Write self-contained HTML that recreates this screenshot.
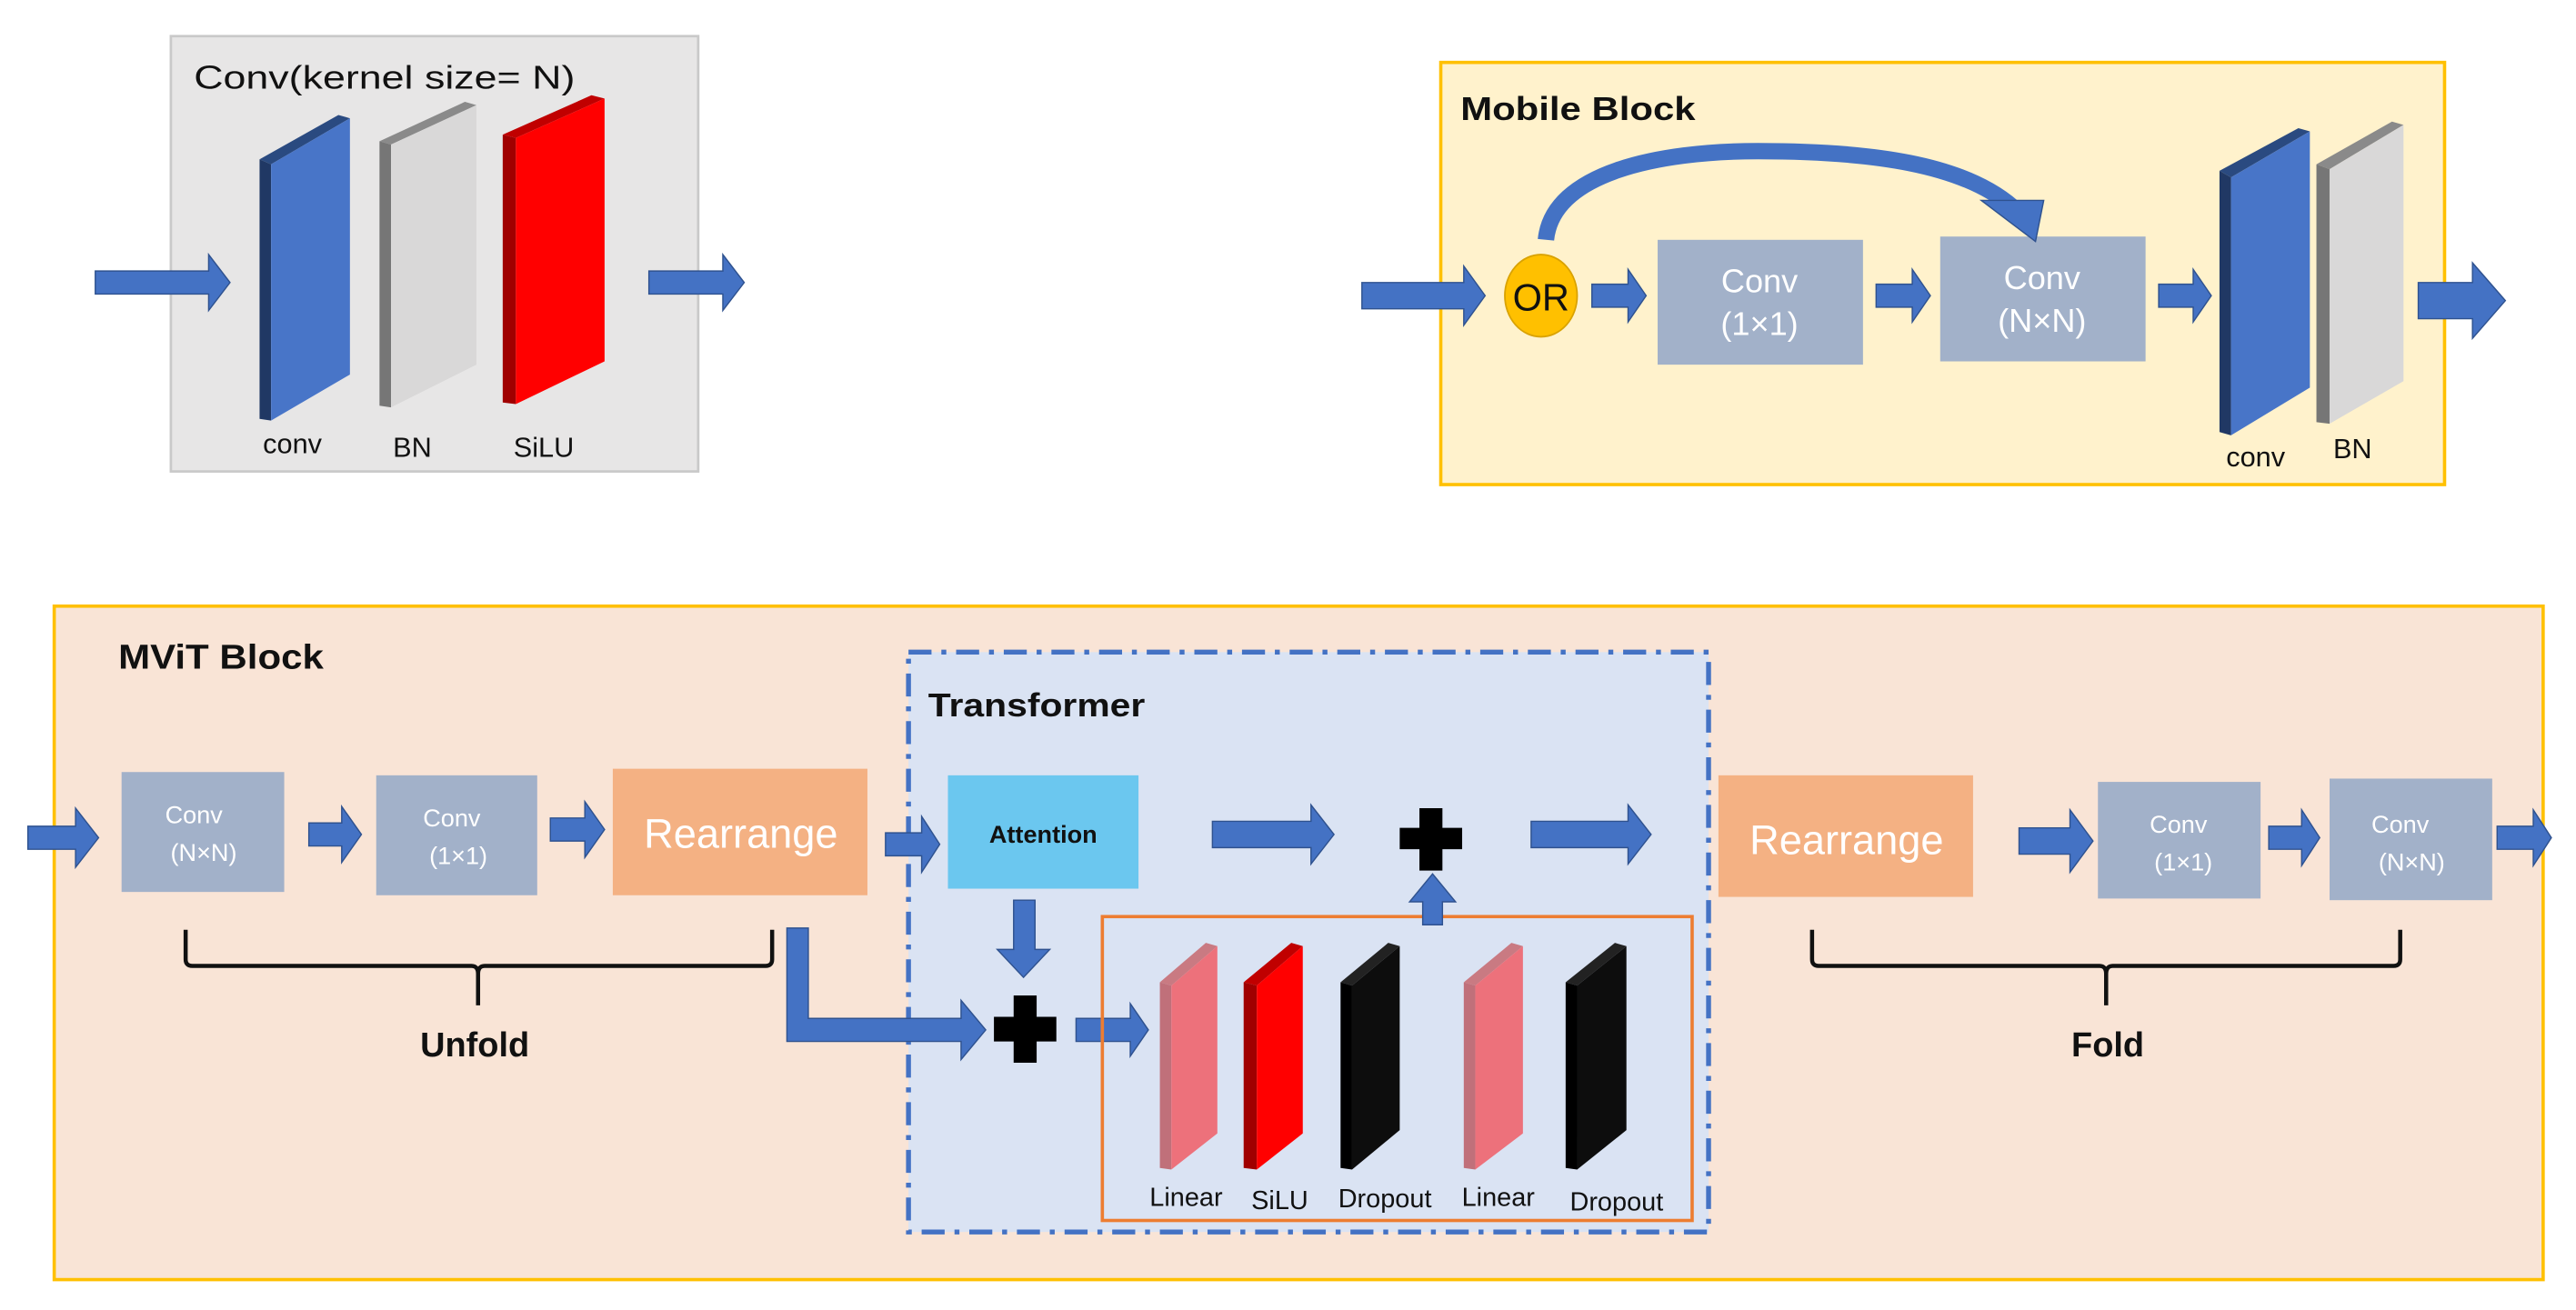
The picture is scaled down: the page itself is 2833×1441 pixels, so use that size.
<!DOCTYPE html>
<html><head><meta charset="utf-8"><style>
html,body{margin:0;padding:0;background:#fff;}
svg{display:block;}
text{font-family:"Liberation Sans",sans-serif;}
.t{font-weight:bold;}
</style></head><body>
<svg width="2833" height="1441" viewBox="0 0 1568 797.5" preserveAspectRatio="none" xmlns="http://www.w3.org/2000/svg">
<defs>
<style>.ar{fill:#4472c4;stroke:#2f528f;stroke-width:0.8}</style>
</defs>
<rect x="0" y="0" width="1568" height="798" fill="#fff"/>

<!-- Conv block -->
<rect x="104" y="22" width="321" height="265" fill="#e7e6e6" stroke="#c9c9c9" stroke-width="1.5"/>
<text x="118" y="54" font-size="20" fill="#111" textLength="232" lengthAdjust="spacingAndGlyphs">Conv(kernel size= N)</text>
<polygon points="158,97 206,70 213,72 165,100" fill="#2a4a80"/>
<polygon points="158,97 165,100 165,256 158,255" fill="#203864"/>
<polygon points="165,100 213,72 213,228 165,256" fill="#4875c8"/>
<polygon points="231,86 283,62 290,64 238,88" fill="#8a8a8a"/>
<polygon points="231,86 238,88 238,248 231,247" fill="#767676"/>
<polygon points="238,88 290,64 290,222 238,248" fill="#d9d8d8"/>
<polygon points="306,82 360,58 368,60 314,84" fill="#c00000"/>
<polygon points="306,82 314,84 314,246 306,245" fill="#a00000"/>
<polygon points="314,84 368,60 368,220 314,246" fill="#ff0000"/>
<text x="178" y="276" font-size="17" text-anchor="middle" fill="#111">conv</text>
<text x="251" y="278" font-size="17" text-anchor="middle" fill="#111">BN</text>
<text x="331" y="278" font-size="17" text-anchor="middle" fill="#111">SiLU</text>
<polygon class="ar" points="58,165 127,165 127,155 140,172 127,189 127,179 58,179"/>
<polygon class="ar" points="395,165 440,165 440,155 453,172 440,189 440,179 395,179"/>

<!-- Mobile block -->
<rect x="877" y="38" width="611" height="257" fill="#fff2cc" stroke="#ffc000" stroke-width="2"/>
<text x="889" y="73" font-size="20" fill="#111" class="t" textLength="143" lengthAdjust="spacingAndGlyphs">Mobile Block</text>
<polygon class="ar" points="829,172 891,172 891,162 904,180 891,198 891,188 829,188"/>
<ellipse cx="938" cy="180" rx="22" ry="25" fill="#ffc000" stroke="#d9a200" stroke-width="1"/>
<text x="938" y="189" font-size="23" text-anchor="middle" fill="#111">OR</text>
<polygon class="ar" points="969,173 991,173 991,164 1002,180 991,196 991,187 969,187"/>
<rect x="1009" y="146" width="125" height="76" fill="#a2b1c9"/>
<text x="1071" y="178" font-size="20" text-anchor="middle" fill="#fff">Conv</text>
<text x="1071" y="204" font-size="20" text-anchor="middle" fill="#fff">(1×1)</text>
<polygon class="ar" points="1142,173 1164,173 1164,164 1175,180 1164,196 1164,187 1142,187"/>
<rect x="1181" y="144" width="125" height="76" fill="#a2b1c9"/>
<text x="1243" y="176" font-size="20" text-anchor="middle" fill="#fff">Conv</text>
<text x="1243" y="202" font-size="20" text-anchor="middle" fill="#fff">(N×N)</text>
<polygon class="ar" points="1314,173 1335,173 1335,164 1346,180 1335,196 1335,187 1314,187"/>
<path d="M941,146 C945,105 1010,92 1070,92 C1140,92 1195,100 1225,126" fill="none" stroke="#4472c4" stroke-width="10"/>
<polygon class="ar" points="1206,122 1244,122 1239,147"/>
<polygon points="1351,104 1399,78 1406,80 1358,108" fill="#2a4a80"/>
<polygon points="1351,104 1358,108 1358,265 1351,263" fill="#203864"/>
<polygon points="1358,108 1406,80 1406,236 1358,265" fill="#4875c8"/>
<polygon points="1410,100 1456,74 1463,76 1418,103" fill="#8a8a8a"/>
<polygon points="1410,100 1418,103 1418,258 1410,257" fill="#767676"/>
<polygon points="1418,103 1463,76 1463,232 1418,258" fill="#d9d8d8"/>
<text x="1373" y="284" font-size="17" text-anchor="middle" fill="#111">conv</text>
<text x="1432" y="279" font-size="17" text-anchor="middle" fill="#111">BN</text>
<polygon class="ar" points="1472,172 1505,172 1505,160 1525,183 1505,206 1505,194 1472,194"/>

<!-- MViT block -->
<rect x="33" y="369" width="1515" height="410" fill="#f9e4d6" stroke="#ffc000" stroke-width="2"/>
<text x="72" y="407" font-size="21" fill="#111" class="t" textLength="125" lengthAdjust="spacingAndGlyphs">MViT Block</text>
<rect x="553" y="397" width="487" height="353" fill="#dae3f3" stroke="#4472c4" stroke-width="3" stroke-dasharray="14,6,3,6"/>
<text x="565" y="436" font-size="20" fill="#111" class="t" textLength="132" lengthAdjust="spacingAndGlyphs">Transformer</text>

<polygon class="ar" points="17,503 46,503 46,492 60,510 46,528 46,517 17,517"/>
<rect x="74" y="470" width="99" height="73" fill="#a2b1c9"/>
<text x="118" y="501" font-size="15" text-anchor="middle" fill="#fff">Conv</text>
<text x="124" y="524" font-size="15" text-anchor="middle" fill="#fff">(N×N)</text>
<polygon class="ar" points="188,501 208,501 208,491 220,508 208,525 208,515 188,515"/>
<rect x="229" y="472" width="98" height="73" fill="#a2b1c9"/>
<text x="275" y="503" font-size="15" text-anchor="middle" fill="#fff">Conv</text>
<text x="279" y="526" font-size="15" text-anchor="middle" fill="#fff">(1×1)</text>
<polygon class="ar" points="335,498 356,498 356,488 368,505 356,522 356,512 335,512"/>
<rect x="373" y="468" width="155" height="77" fill="#f4b183"/>
<text x="451" y="516" font-size="25" text-anchor="middle" fill="#fff">Rearrange</text>
<polygon class="ar" points="539,507 561,507 561,497 572,514 561,531 561,521 539,521"/>
<rect x="577" y="472" width="116" height="69" fill="#6bc7ef"/>
<text x="635" y="513" font-size="15" text-anchor="middle" fill="#111" class="t">Attention</text>
<polygon class="ar" points="738,500 798,500 798,490 812,508 798,526 798,516 738,516"/>
<path d="M864,492 h14 v12 h12 v13 h-12 v13 h-14 v-13 h-12 v-13 h12 z" fill="#000"/>
<polygon class="ar" points="932,500 991,500 991,490 1005,508 991,526 991,516 932,516"/>
<polygon class="ar" points="617,548 630,548 630,578 639,578 623,595 607,578 617,578"/>
<path d="M617,606 h14 v13 h12 v15 h-12 v13 h-14 v-13 h-12 v-15 h12 z" fill="#000"/>
<polygon class="ar" points="655,620 688,620 688,611 699,627 688,643 688,634 655,634"/>
<polygon class="ar" points="479,565 492,565 492,620 585,620 585,609 600,627 585,645 585,634 479,634"/>
<rect x="671" y="558" width="359" height="185" fill="none" stroke="#ed7d31" stroke-width="2"/>
<polygon class="ar" points="866,563 878,563 878,549 886,549 872,532 858,549 866,549"/>
<polygon points="706,598 734,574 741,576 713,600" fill="#c97a82"/>
<polygon points="706,598 713,600 713,712 706,711" fill="#c0707a"/>
<polygon points="713,600 741,576 741,690 713,712" fill="#ed717b"/>
<polygon points="757,598 786,574 793,576 765,600" fill="#c00000"/>
<polygon points="757,598 765,600 765,712 757,711" fill="#a00000"/>
<polygon points="765,600 793,576 793,690 765,712" fill="#ff0000"/>
<polygon points="816,598 845,574 852,576 823,600" fill="#222"/>
<polygon points="816,598 823,600 823,712 816,711" fill="#000"/>
<polygon points="823,600 852,576 852,688 823,712" fill="#0d0d0d"/>
<polygon points="891,598 920,574 927,576 898,600" fill="#c97a82"/>
<polygon points="891,598 898,600 898,712 891,711" fill="#c0707a"/>
<polygon points="898,600 927,576 927,690 898,712" fill="#ed717b"/>
<polygon points="953,598 983,574 990,576 960,600" fill="#222"/>
<polygon points="953,598 960,600 960,712 953,711" fill="#000"/>
<polygon points="960,600 990,576 990,688 960,712" fill="#0d0d0d"/>
<text x="722" y="734" font-size="16" text-anchor="middle" fill="#111">Linear</text>
<text x="779" y="736" font-size="16" text-anchor="middle" fill="#111">SiLU</text>
<text x="843" y="735" font-size="16" text-anchor="middle" fill="#111">Dropout</text>
<text x="912" y="734" font-size="16" text-anchor="middle" fill="#111">Linear</text>
<text x="984" y="737" font-size="16" text-anchor="middle" fill="#111">Dropout</text>

<rect x="1046" y="472" width="155" height="74" fill="#f4b183"/>
<text x="1124" y="520" font-size="25" text-anchor="middle" fill="#fff">Rearrange</text>
<polygon class="ar" points="1229,504 1260,504 1260,493 1274,512 1260,531 1260,520 1229,520"/>
<rect x="1277" y="476" width="99" height="71" fill="#a2b1c9"/>
<text x="1326" y="507" font-size="15" text-anchor="middle" fill="#fff">Conv</text>
<text x="1329" y="530" font-size="15" text-anchor="middle" fill="#fff">(1×1)</text>
<polygon class="ar" points="1381,503 1401,503 1401,493 1412,510 1401,527 1401,517 1381,517"/>
<rect x="1418" y="474" width="99" height="74" fill="#a2b1c9"/>
<text x="1461" y="507" font-size="15" text-anchor="middle" fill="#fff">Conv</text>
<text x="1468" y="530" font-size="15" text-anchor="middle" fill="#fff">(N×N)</text>
<polygon class="ar" points="1520,503 1542,503 1542,493 1553,510 1542,527 1542,517 1520,517"/>

<path d="M113,566 v18 q0,4 4,4 H287 q4,0 4,5 v19 M291,593 q0,-5 4,-5 H466 q4,0 4,-4 v-18" fill="none" stroke="#111" stroke-width="2.5"/>
<text x="289" y="643" font-size="21" text-anchor="middle" fill="#111" class="t">Unfold</text>
<path d="M1103,566 v18 q0,4 4,4 H1278 q4,0 4,5 v19 M1282,593 q0,-5 4,-5 H1457 q4,0 4,-4 v-18" fill="none" stroke="#111" stroke-width="2.5"/>
<text x="1283" y="643" font-size="21" text-anchor="middle" fill="#111" class="t">Fold</text>
</svg>
</body></html>
